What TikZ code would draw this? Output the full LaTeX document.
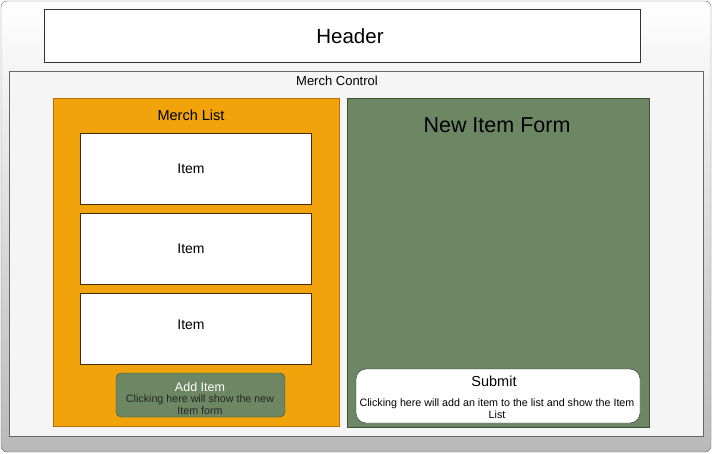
\documentclass[tikz,border=0pt]{standalone}
\usepackage{fontspec}
\setmainfont{Liberation Sans}
\definecolor{orangefill}{HTML}{F0A30A}
\definecolor{orangeline}{HTML}{BD7000}
\definecolor{greenfill}{HTML}{6D8764}
\definecolor{greenline}{HTML}{3A5431}
\definecolor{itemline}{HTML}{432D0E}
\definecolor{panelfill}{HTML}{F5F5F5}
\definecolor{frameline}{HTML}{666666}
\tikzset{
  box/.style={draw, inner sep=0pt, outer sep=0pt},
  itembox/.style={box, draw=itemline, fill=white, minimum width=231pt, minimum height=71pt},
  itemtext/.style={font=\fontsize{14}{16}\selectfont},
  smalltext/.style={font=\fontsize{10.7}{12}\selectfont, align=center}
}
\begin{document}
\begin{tikzpicture}[x=1pt,y=-1pt]
    \useasboundingbox (0,0) rectangle (712,454);
    % outer window
    \draw[rounded corners=6pt, draw=frameline, top color=white, bottom color=gray!55] (1,1) rectangle (711,452);
    \node[box, draw=black!80, fill=white, minimum width=596pt, minimum height=53pt] (header) at (342,35.5) {};
    \node[font=\fontsize{20.5}{24}\selectfont] (headertext) at (350,36) {Header};
    % merch control panel
    \node[box, draw=frameline, fill=panelfill, minimum width=694pt, minimum height=365pt] (control) at (356,253.5) {};
    \node[font=\fontsize{13}{15}\selectfont] (controltitle) at (337,80.5) {Merch Control};
    % merch list
    \node[box, draw=orangeline, fill=orangefill, minimum width=286pt, minimum height=328pt] (list) at (196,262) {};
    \node[font=\fontsize{14.5}{16}\selectfont] (listtitle) at (191,115) {Merch List};
    \node[itembox] (item1) at (195.5,168.5) {};
    \node[itembox] (item2) at (195.5,248.5) {};
    \node[itembox] (item3) at (195.5,328.5) {};
    \node[itemtext] (item1text) at (191,168.5) {Item};
    \node[itemtext] (item2text) at (191,248.5) {Item};
    \node[itemtext] (item3text) at (191,324.5) {Item};
    \node[box, rounded corners=5pt, draw=greenline, fill=greenfill, minimum width=169pt, minimum height=44pt] (additem) at (200.5,395) {};
    \node[font=\fontsize{12.5}{14}\selectfont, text=white] (addtitle) at (200,387) {Add Item};
    \node[smalltext, text=black!85] (addtext) at (200,405) {Clicking here will show the new\\Item form};
    % new item form
    \node[box, draw=greenline, fill=greenfill, minimum width=302pt, minimum height=329pt] (form) at (498,262.5) {};
    \node[font=\fontsize{21.5}{24}\selectfont] (formtitle) at (497,125.5) {New Item Form};
    \node[box, rounded corners=10pt, draw=black!85, fill=white, minimum width=284pt, minimum height=54pt] (submit) at (498,396) {};
    \node[font=\fontsize{14.5}{16}\selectfont] (submittitle) at (494,381.5) {Submit};
    \node[smalltext] (submittext) at (497,409) {Clicking here will add an item to the list and show the Item\\List};
\end{tikzpicture}
\end{document}
